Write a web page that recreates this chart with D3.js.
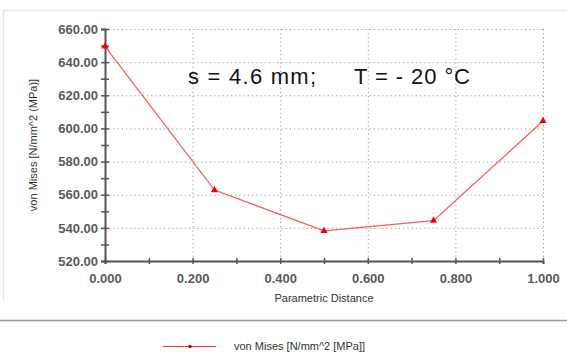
<!DOCTYPE html>
<html>
<head>
<meta charset="UTF-8" />
<title>von Mises</title>
<script src="https://cdn.jsdelivr.net/npm/d3@7"></script>
<style>
  body { margin: 0; background: #fff; }
  svg { display: block; }
  text { font-family: "Liberation Sans", Arial, sans-serif; }
</style>
</head>
<body>
<svg width="567" height="356"></svg>
<script>
  // data
  const distances = [0, 0.25, 0.5, 0.75, 1.0];
  const vonMises = [649.5, 562.8, 538.2, 544.3, 604.5];
  const xTicks = [0, 0.2, 0.4, 0.6, 0.8, 1.0];
  const yTicks = [520, 540, 560, 580, 600, 620, 640, 660];
  const seriesName = "von Mises [N/mm^2 [MPa]]";

  const svg = d3.select("svg");

  const x = d3.scaleLinear().domain([0, 1]).range([105, 543]);
  const y = d3.scaleLinear().domain([520, 660]).range([261, 29]);

  // frame
  svg.append("path")
    .attr("d", "M3.5,300 V10.5 H567")
    .attr("fill", "none").attr("stroke", "#e6e6e6").attr("stroke-width", 1.5);
  svg.append("line")
    .attr("x1", 0).attr("x2", 567).attr("y1", 320.5).attr("y2", 320.5)
    .attr("stroke", "#9a9a9a").attr("stroke-width", 1.5);

  // grid
  svg.append("g").selectAll("line").data(yTicks.slice(1)).enter().append("line")
    .attr("x1", x(0)).attr("x2", x(1))
    .attr("y1", d => y(d) + 0.5).attr("y2", d => y(d) + 0.5)
    .attr("stroke", "#999").attr("stroke-dasharray", "1.2,3");
  svg.append("g").selectAll("line").data(xTicks.slice(1)).enter().append("line")
    .attr("x1", d => x(d) + 0.5).attr("x2", d => x(d) + 0.5)
    .attr("y1", y(520)).attr("y2", y(660))
    .attr("stroke", "#999").attr("stroke-dasharray", "1.2,3");

  // axes
  const yAxis = svg.append("g").attr("transform", `translate(${x(0)},0)`)
    .call(d3.axisLeft(y).tickValues(yTicks).tickFormat(d3.format(".2f")).tickSize(4).tickPadding(3));
  const yMinor = svg.append("g").attr("transform", `translate(${x(0)},0)`)
    .call(d3.axisLeft(y).tickValues(d3.range(530, 660, 20)).tickFormat("").tickSize(4));
  const xAxis = svg.append("g").attr("transform", `translate(0,${y(520)})`)
    .call(d3.axisBottom(x).tickValues(xTicks).tickFormat(d3.format(".3f")).tickSize(3).tickPadding(10));
  const xMinor = svg.append("g").attr("transform", `translate(0,${y(520)})`)
    .call(d3.axisBottom(x).tickValues([0.1, 0.3, 0.5, 0.7, 0.9]).tickFormat("").tickSize(3));

  [yAxis, yMinor, xAxis, xMinor].forEach(g => {
    g.select(".domain").attr("stroke", "#555").attr("stroke-width", 2);
    g.selectAll(".tick line").attr("stroke", "#555").attr("stroke-width", 1.5);
    g.selectAll("text").attr("fill", "#5a5a5a").style("font-size", "13px").style("font-weight", "bold");
  });
  yMinor.select(".domain").remove();
  xMinor.select(".domain").remove();
  // ticks cross the axis line
  yAxis.selectAll(".tick line").attr("x2", 4).attr("x1", -4);
  yMinor.selectAll(".tick line").attr("x2", 4).attr("x1", -4);
  xAxis.selectAll(".tick line").attr("y1", -3);
  xMinor.selectAll(".tick line").attr("y1", -3);

  // axis titles
  svg.append("text")
    .attr("transform", `translate(37,${(y(520) + y(660)) / 2}) rotate(-90)`)
    .attr("text-anchor", "middle").attr("fill", "#333").style("font-size", "11px")
    .text("von Mises [N/mm^2 (MPa)]");
  svg.append("text")
    .attr("x", 324).attr("y", 302).attr("text-anchor", "middle")
    .attr("fill", "#333").style("font-size", "11px")
    .text("Parametric Distance");

  // series
  const pts = distances.map((d, i) => [d, vonMises[i]]);
  svg.append("path").datum(pts)
    .attr("d", d3.line().x(d => x(d[0])).y(d => y(d[1])))
    .attr("fill", "none").attr("stroke", "#ff5a5a").attr("stroke-width", 1.3);
  svg.append("g").selectAll("path").data(pts).enter().append("path")
    .attr("d", d3.symbol(d3.symbolTriangle, 22))
    .attr("transform", d => `translate(${x(d[0])},${y(d[1])})`)
    .attr("fill", "#ee0000");

  // annotation
  const note = svg.append("g")
    .attr("fill", "#111").style("font-size", "22px")
    .style("font-family", "'Open Sans', sans-serif").style("font-weight", "300");
  note.append("text").attr("x", 188).attr("y", 84)
    .attr("textLength", 128).attr("lengthAdjust", "spacing")
    .text("s = 4.6 mm;");
  note.append("text").attr("x", 354).attr("y", 84)
    .attr("textLength", 116).attr("lengthAdjust", "spacing")
    .text("T = - 20 °C");

  // legend
  svg.append("line")
    .attr("x1", 163).attr("x2", 216).attr("y1", 346.5).attr("y2", 346.5)
    .attr("stroke", "#ff3030").attr("stroke-width", 1.2);
  svg.append("circle").attr("cx", 190).attr("cy", 346.5).attr("r", 1.8).attr("fill", "#cc0000");
  svg.append("text")
    .attr("x", 234).attr("y", 350)
    .attr("fill", "#333").style("font-size", "11px")
    .text(seriesName);
</script>
</body>
</html>
